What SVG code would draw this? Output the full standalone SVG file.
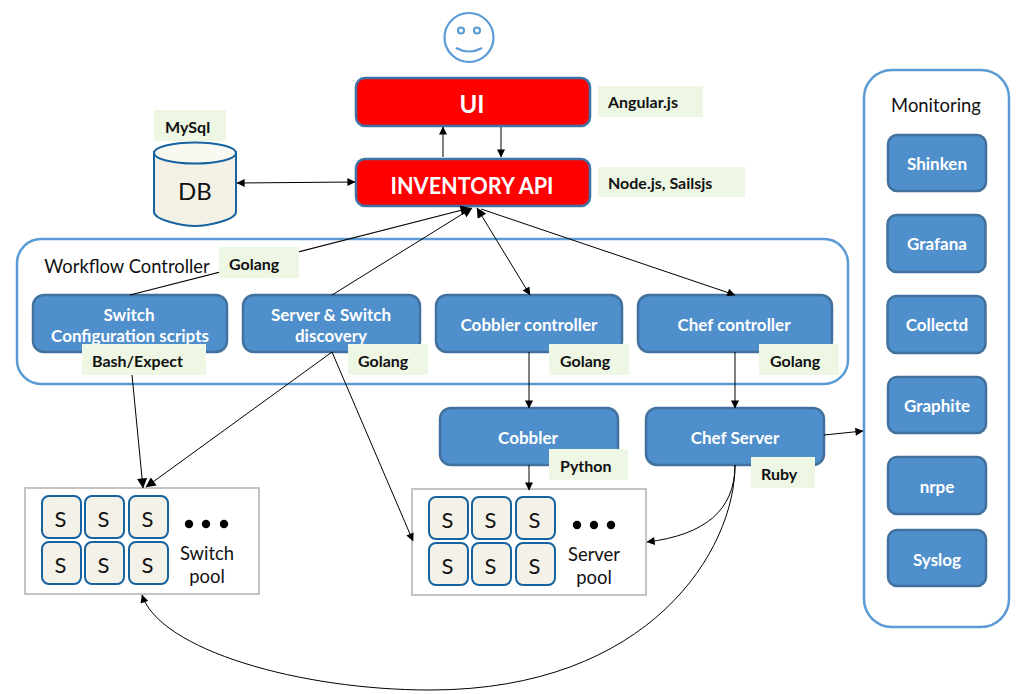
<svg xmlns="http://www.w3.org/2000/svg" width="1016" height="694" viewBox="0 0 1016 694">
<style>
text{font-family:Lato,"Liberation Sans",sans-serif;text-anchor:middle}
.blue rect{fill:#4f8fcc;stroke:#41719c;stroke-width:2.5}
.blue text{fill:#fff;font-weight:700;font-size:17px}
.red rect{fill:#f00;stroke:#3f72a5;stroke-width:2.5}
.red text{fill:#fff;font-weight:700}
.tag{fill:#eef6e4}
.tagt{font-size:16px;font-weight:700;fill:#111;text-anchor:start}
.c{fill:none;stroke:#000;stroke-width:1}
.panel{fill:#fff;stroke:#5b9bd5;stroke-width:2.5}
.s rect{fill:#f3f1e8;stroke:#17639f;stroke-width:2}
.s text{font-size:22px;fill:#111}
.pool{fill:#fff;stroke:#c4c4c4;stroke-width:2}
.lbl{font-size:18.400px;fill:#111}
</style>
<defs>
<marker id="a" viewBox="0 0 10 10" refX="9.500" refY="5" markerWidth="9" markerHeight="8" markerUnits="userSpaceOnUse" orient="auto-start-reverse"><path d="M0 0L10 5L0 10z" fill="#000"/></marker>
<marker id="b" viewBox="0 0 10 10" refX="9.500" refY="5" markerWidth="11" markerHeight="10" markerUnits="userSpaceOnUse" orient="auto-start-reverse"><path d="M0 0L10 5L0 10z" fill="#000"/></marker>
<g id="sw" class="s"><rect x="0" y="0" width="39" height="42" rx="7"/><text x="18.500" y="30.500">S</text></g>
</defs>

<g id="smiley" fill="none" stroke="#5b9bd5" stroke-width="2.200">
<circle cx="469" cy="37.500" r="24.500"/><circle cx="461" cy="30.500" r="3"/><circle cx="477" cy="30.500" r="3"/>
<path d="M456 48Q469 55 482 48"/>
</g>

<g id="workflow"><rect class="panel" x="17" y="239" width="831" height="145" rx="24"/>
<text class="lbl" x="127" y="273">Workflow Controller</text></g>
<g id="monitoring"><rect class="panel" x="864" y="70" width="145" height="557" rx="28"/>
<text class="lbl" x="936" y="112">Monitoring</text></g>

<g id="ui" class="red"><rect x="356" y="78" width="234" height="48" rx="9"/><text x="472" y="113" font-size="24">UI</text></g>
<g id="inventory" class="red"><rect x="356" y="159" width="234" height="47" rx="9"/><text x="472" y="194" font-size="23.500" textLength="163" lengthAdjust="spacingAndGlyphs">INVENTORY API</text></g>

<g id="db">
<path d="M154 152V212C154 220 183 226 195 226C207 226 236 220 236 212V152z" fill="#f3f1e6" stroke="#17639f" stroke-width="2"/>
<ellipse cx="195" cy="153" rx="41" ry="10.500" fill="#f9f9f2" stroke="#17639f" stroke-width="2"/>
<text x="195" y="200" font-size="24" fill="#111">DB</text>
</g>

<g id="switch-config" class="blue"><rect x="33" y="295" width="194" height="57" rx="11"/><text x="129" y="321">Switch</text><text x="130" y="342">Configuration scripts</text></g>
<g id="discovery" class="blue"><rect x="243" y="295" width="177" height="57" rx="11"/><text x="331" y="321">Server &amp; Switch</text><text x="331" y="342">discovery</text></g>
<g id="cobbler-ctl" class="blue"><rect x="436" y="295" width="186" height="57" rx="11"/><text x="529" y="331">Cobbler controller</text></g>
<g id="chef-ctl" class="blue"><rect x="638" y="295" width="194" height="57" rx="11"/><text x="734" y="331">Chef controller</text></g>
<g id="cobbler" class="blue"><rect x="440" y="408" width="178" height="57" rx="11"/><text x="528" y="444">Cobbler</text></g>
<g id="chef-server" class="blue"><rect x="646" y="408" width="178" height="57" rx="11"/><text x="735" y="444">Chef Server</text></g>

<g id="shinken" class="blue"><rect x="888" y="135" width="98" height="56" rx="9"/><text x="937" y="170">Shinken</text></g>
<g id="grafana" class="blue"><rect x="887.500" y="215" width="98" height="57" rx="9"/><text x="937" y="250">Grafana</text></g>
<g id="collectd" class="blue"><rect x="887.500" y="296" width="98" height="57" rx="9"/><text x="937" y="331">Collectd</text></g>
<g id="graphite" class="blue"><rect x="888" y="377" width="98" height="56" rx="9"/><text x="937" y="412">Graphite</text></g>
<g id="nrpe" class="blue"><rect x="888" y="457" width="98" height="57" rx="9"/><text x="937" y="493">nrpe</text></g>
<g id="syslog" class="blue"><rect x="888" y="530" width="98" height="56" rx="9"/><text x="937" y="566">Syslog</text></g>

<g id="switch-pool"><rect class="pool" x="25" y="488" width="234" height="106"/>
<use href="#sw" x="42" y="496"/><use href="#sw" x="85" y="496"/><use href="#sw" x="129" y="496"/>
<use href="#sw" x="42" y="542"/><use href="#sw" x="85" y="542"/><use href="#sw" x="129" y="542"/>
<circle cx="189" cy="524" r="4.200"/><circle cx="206" cy="524" r="4.200"/><circle cx="224" cy="524" r="4.200"/>
<text class="lbl" x="207" y="560">Switch</text><text class="lbl" x="207" y="583">pool</text></g>

<g id="server-pool"><rect class="pool" x="412" y="489" width="234" height="106"/>
<use href="#sw" x="429" y="497"/><use href="#sw" x="472" y="497"/><use href="#sw" x="516" y="497"/>
<use href="#sw" x="429" y="543"/><use href="#sw" x="472" y="543"/><use href="#sw" x="516" y="543"/>
<circle cx="577" cy="525" r="4.200"/><circle cx="594" cy="525" r="4.200"/><circle cx="611" cy="525" r="4.200"/>
<text class="lbl" x="594" y="561">Server</text><text class="lbl" x="594" y="584">pool</text></g>

<g id="connectors">
<path class="c" d="M443 157V127" marker-end="url(#a)"/>
<path class="c" d="M501 127V157" marker-end="url(#a)"/>
<path class="c" d="M237 183L355 182" marker-start="url(#a)" marker-end="url(#a)"/>
<path class="c" d="M130 295L470 208" marker-end="url(#b)" style="stroke-width:1.200"/>
<path class="c" d="M332 295L472 208" marker-end="url(#b)"/>
<path class="c" d="M477 208L530 295" marker-start="url(#b)" marker-end="url(#a)"/>
<path class="c" d="M481 209L735 295" marker-end="url(#a)"/>
<path class="c" d="M132 375L143 488" marker-end="url(#b)"/>
<path class="c" d="M332 352L146 487" marker-end="url(#b)"/>
<path class="c" d="M332 352L413 541" marker-end="url(#a)"/>
<path class="c" d="M529 352V408" marker-end="url(#a)"/>
<path class="c" d="M735 352V408" marker-end="url(#a)"/>
<path class="c" d="M529 465V490" marker-end="url(#a)"/>
<path class="c" d="M824 435L863 431" marker-end="url(#a)"/>
<path class="c" d="M735 465C735 510 705 535 647 542" marker-end="url(#a)"/>
<path class="c" d="M735 465C735 550 650 690 430 690C300 690 160 650 142 595" marker-end="url(#a)"/>
</g>

<g id="tags">
<rect class="tag" x="598" y="86" width="105" height="31"/><text class="tagt" x="608" y="108">Angular.js</text>
<rect class="tag" x="598" y="167" width="147" height="30"/><text class="tagt" x="608" y="189">Node.js, Sailsjs</text>
<rect class="tag" x="154" y="110" width="72" height="31"/><text class="tagt" x="165" y="133">MySql</text>
<rect class="tag" x="219" y="247" width="80" height="31"/><text class="tagt" x="229" y="270">Golang</text>
<rect class="tag" x="82" y="344" width="124" height="31"/><text class="tagt" x="92" y="367">Bash/Expect</text>
<rect class="tag" x="348" y="344" width="80" height="31"/><text class="tagt" x="358" y="367">Golang</text>
<rect class="tag" x="549" y="344" width="80" height="31"/><text class="tagt" x="560" y="367">Golang</text>
<rect class="tag" x="759" y="344" width="80" height="31"/><text class="tagt" x="770" y="367">Golang</text>
<rect class="tag" x="549" y="449" width="79" height="31"/><text class="tagt" x="560" y="472">Python</text>
<rect class="tag" x="751" y="457" width="64" height="31"/><text class="tagt" x="761" y="480">Ruby</text>
</g>
</svg>
